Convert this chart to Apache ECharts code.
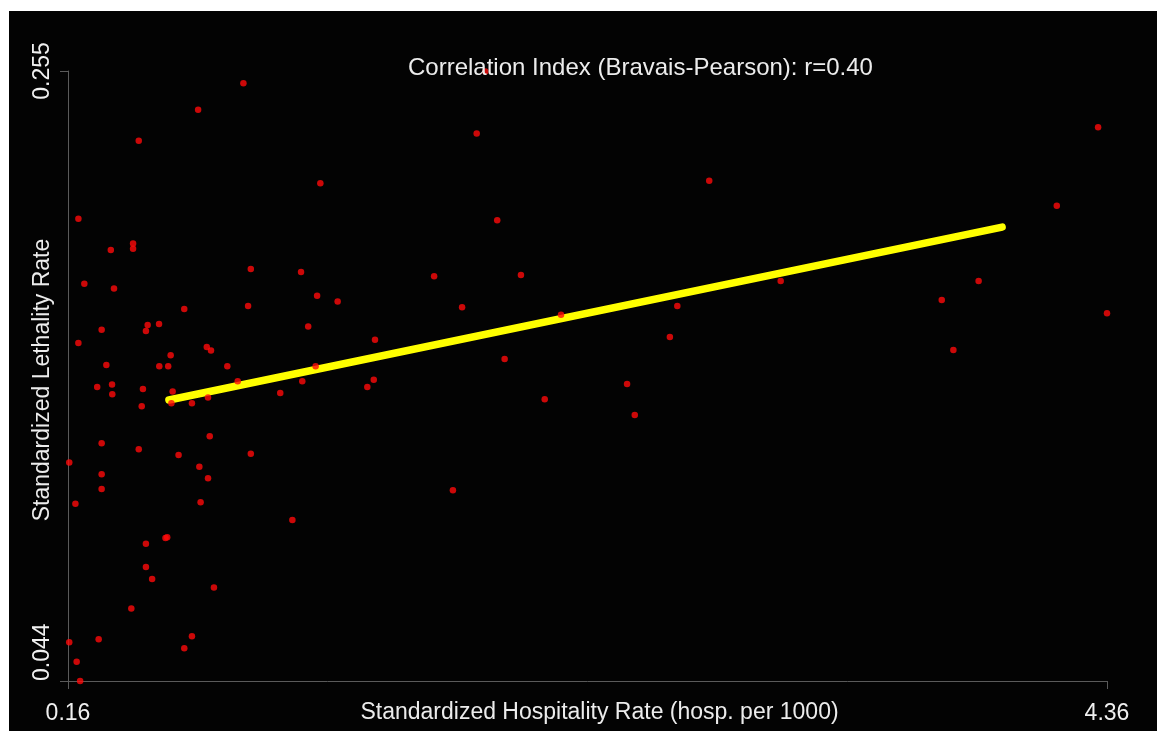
<!DOCTYPE html>
<html>
<head>
<meta charset="utf-8">
<script src="https://cdn.jsdelivr.net/npm/echarts@6/dist/echarts.min.js"></script>
<style>
  html, body { margin: 0; padding: 0; background: #ffffff; width: 1157px; height: 731px; overflow: hidden; }
  #chart { position: absolute; left: 9px; top: 11px; width: 1148px; height: 720px; }
</style>
</head>
<body>
<div id="chart"></div>
<script>
// ---- data ----
const titleText = 'Correlation Index (Bravais-Pearson): r=0.40';
const xAxisTitle = 'Standardized Hospitality Rate (hosp. per 1000)';
const yAxisTitle = 'Standardized Lethality Rate';
const xTicks = [0.16, 4.36];
const yTicks = [0.044, 0.255];

const hospRate = [
  0.869, 0.686, 0.446, 1.180, 0.202, 0.423, 0.423, 0.333, 0.899, 1.102,
  0.226, 0.346, 1.167, 1.250, 0.630, 0.888, 1.131, 0.296, 0.482, 0.475,
  0.528, 0.202, 0.721, 0.738, 0.575, 0.315, 0.529, 0.565, 0.804, 1.161,
  0.278, 0.338, 0.339, 0.463, 0.458, 0.583, 0.578, 0.661, 0.726, 0.846,
  1.018, 1.107, 0.296, 0.446, 0.607, 0.733, 0.899, 0.165, 0.691, 0.296,
  0.726, 0.296, 0.190, 0.696, 1.067, 0.561, 0.554, 0.475, 0.475, 0.500,
  0.750, 0.416, 0.661, 0.630, 0.284, 0.165, 0.195, 0.209,
  1.812, 2.752, 1.895, 1.640, 1.991, 1.753, 2.153, 2.623, 1.401, 2.593,
  1.925, 1.396, 1.370, 2.420, 2.087, 2.451, 1.716, 1.847,
  4.324, 4.157, 3.041, 3.841, 3.692, 4.360, 3.739
];
const lethalityRate = [
  0.2508, 0.2416, 0.2309, 0.2162, 0.2039, 0.1953, 0.1935, 0.1931, 0.1865, 0.1855,
  0.1814, 0.1798, 0.1773, 0.1753, 0.1727, 0.1737, 0.1666, 0.1655, 0.1671, 0.1651,
  0.1675, 0.1609, 0.1595, 0.1583, 0.1567, 0.1533, 0.1529, 0.1529, 0.1529, 0.1529,
  0.1457, 0.1466, 0.1432, 0.1450, 0.1390, 0.1441, 0.1401, 0.1401, 0.1421, 0.1477,
  0.1436, 0.1477, 0.1262, 0.1242, 0.1222, 0.1287, 0.1226, 0.1196, 0.1181, 0.1155,
  0.1141, 0.1104, 0.1053, 0.1058, 0.0997, 0.0937, 0.0935, 0.0915, 0.0834, 0.0793,
  0.0763, 0.0691, 0.0595, 0.0553, 0.0584, 0.0574, 0.0507, 0.0440,
  0.2334, 0.2170, 0.2034, 0.1840, 0.1844, 0.1733, 0.1707, 0.1737, 0.1620, 0.1630,
  0.1554, 0.1482, 0.1457, 0.1467, 0.1415, 0.1360, 0.1100, 0.2548,
  0.2355, 0.2084, 0.1824, 0.1824, 0.1758, 0.1712, 0.1585
];
const trendX = [0.568, 3.936];
const trendY = [0.1412, 0.2010];

// ---- build series data ----
const scatterData = hospRate.map((x, i) => [x, lethalityRate[i]]);
const trendData = trendX.map((x, i) => [x, trendY[i]]);

const chart = echarts.init(document.getElementById('chart'));
const textFont = 'Liberation Sans, Arial, Helvetica, sans-serif';
const axisColor = '#5a5a5a';

chart.setOption({
  backgroundColor: '#030303',
  animation: false,
  title: {
    text: titleText,
    left: 399,
    top: 45,
    padding: 0,
    z: 10,
    textStyle: { color: '#ececec', fontSize: 24, fontWeight: 'normal', fontFamily: textFont }
  },
  grid: { left: 59, right: 50, top: 60, bottom: 50, outerBoundsMode: 'none' },
  xAxis: {
    type: 'value',
    min: xTicks[0],
    max: xTicks[1],
    name: xAxisTitle,
    nameLocation: 'middle',
    nameGap: 20,
    nameMoveOverlap: false,
    nameTextStyle: { color: '#ececec', fontSize: 23, fontFamily: textFont, padding: [0, 0, 0, 24] },
    axisLine: { show: true, lineStyle: { color: axisColor, width: 1 } },
    axisTick: { show: true, length: 8, customValues: xTicks, lineStyle: { color: axisColor } },
    axisLabel: { customValues: xTicks, margin: 21, color: '#f0f0f0', fontSize: 23, fontFamily: textFont,
                 formatter: v => String(v) },
    splitLine: { show: false }
  },
  yAxis: {
    type: 'value',
    min: yTicks[0],
    max: yTicks[1],
    name: yAxisTitle,
    nameLocation: 'middle',
    nameRotate: 90,
    nameGap: 14,
    nameMoveOverlap: false,
    nameTextStyle: { color: '#ececec', fontSize: 23, fontFamily: textFont, padding: [0, 8, 0, 0] },
    axisLine: { show: true, lineStyle: { color: axisColor, width: 1 } },
    axisTick: { show: true, length: 8, customValues: yTicks, lineStyle: { color: axisColor } },
    axisLabel: { customValues: yTicks, rotate: 90, margin: 14, color: '#f0f0f0', fontSize: 23, fontFamily: textFont,
                 alignMinLabel: 'left', formatter: v => String(v) },
    splitLine: { show: false }
  },
  series: [
    {
      type: 'line',
      data: trendData,
      symbol: 'none',
      z: 1,
      lineStyle: { color: '#ffff00', width: 7.5, cap: 'round' }
    },
    {
      type: 'scatter',
      data: scatterData,
      symbol: 'circle',
      symbolSize: 6.5,
      clip: false,
      z: 2,
      itemStyle: { color: '#ff0a0a' }
    }
  ]
});
</script>
</body>
</html>
